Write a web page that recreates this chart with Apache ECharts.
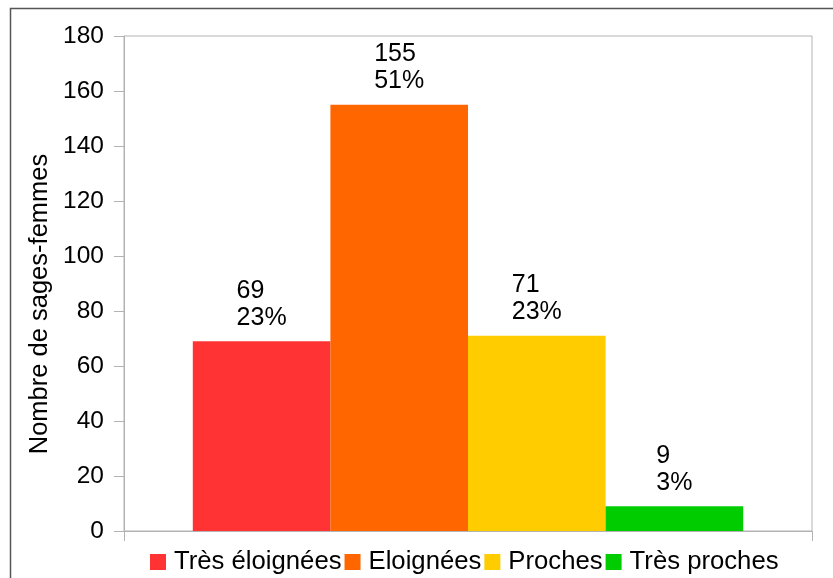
<!DOCTYPE html>
<html>
<head>
<meta charset="utf-8">
<script src="https://cdn.jsdelivr.net/npm/echarts@6/dist/echarts.min.js"></script>
<style>html,body{margin:0;padding:0;background:#fff;}#c{width:833px;height:578px;}</style>
</head>
<body>
<div id="c"></div>
<script>
const seriesNames = ['Très éloignées', 'Eloignées', 'Proches', 'Très proches'];
const seriesValues = [69, 155, 71, 9];
const seriesPercents = ['23%', '51%', '23%', '3%'];
const seriesColors = ['#ff3333', '#ff6600', '#ffcc00', '#00cc00'];
const yAxisTitle = 'Nombre de sages-femmes';

const FONT = '"Liberation Sans", Arial, sans-serif';
const chart = echarts.init(document.getElementById('c'), null, {renderer: 'canvas'});
const series = seriesNames.map((n, i) => ({
  name: n,
  type: 'bar',
  data: [seriesValues[i]],
  barGap: '0%',
  barCategoryGap: '20%',
  itemStyle: {color: seriesColors[i]},
  label: {
    show: true,
    position: 'top',
    distance: 10,
    formatter: () => '{v|' + seriesValues[i] + '}\n{v|' + seriesPercents[i] + '}',
    rich: {v: {align: 'left', fontSize: 25, fontFamily: FONT, color: '#000', lineHeight: 27}}
  }
}));
chart.setOption({
  animation: false,
  textStyle: {fontFamily: FONT},
  grid: {left: 124, right: 21, top: 36, bottom: 47, show: true, borderColor: '#b3b3b3', borderWidth: 1},
  legend: {
    bottom: 3, left: 150, padding: 0,
    itemWidth: 16, itemHeight: 16, itemGap: 3,
    icon: 'rect',
    textStyle: {fontSize: 25.7, fontFamily: FONT, color: '#000', padding: [0, 0, 0, 3]},
    data: seriesNames
  },
  xAxis: {
    type: 'category', data: [''],
    axisLine: {lineStyle: {color: '#b3b3b3'}},
    axisTick: {show: true, length: 10, lineStyle: {color: '#b3b3b3'}},
    axisLabel: {show: false}
  },
  yAxis: {
    type: 'value', min: 0, max: 180, interval: 20,
    axisLine: {show: true, lineStyle: {color: '#b3b3b3'}},
    axisTick: {show: true, length: 10, lineStyle: {color: '#b3b3b3'}},
    splitLine: {show: false},
    axisLabel: {fontSize: 24.5, fontFamily: FONT, color: '#000', margin: 20}
  },
  graphic: [
    {type: 'rect', shape: {x: 10.5, y: 8.5, width: 900, height: 700}, style: {fill: 'none', stroke: '#555', lineWidth: 1.5}, silent: true},
    {type: 'text', x: 40, y: 304, rotation: Math.PI / 2,
     style: {text: yAxisTitle, fontSize: 25.5, fontFamily: FONT, fill: '#000', align: 'center', verticalAlign: 'middle'}}
  ],
  series: series
});
</script>
</body>
</html>
